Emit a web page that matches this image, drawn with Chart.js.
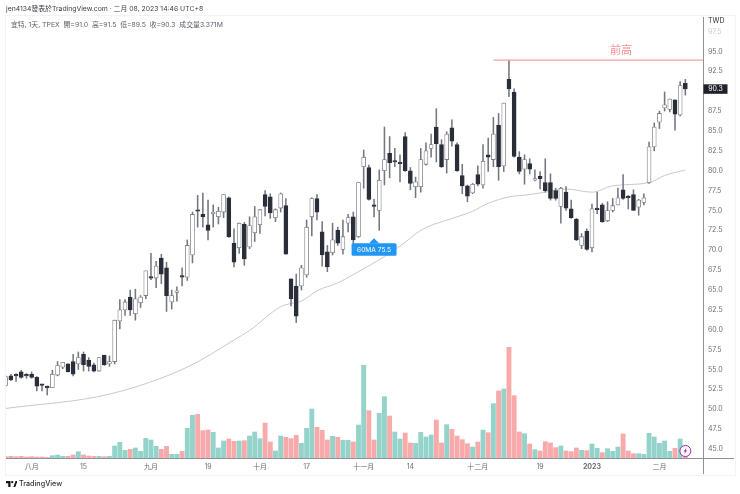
<!DOCTYPE html>
<html>
<head>
<meta charset="utf-8">
<script src="https://cdn.jsdelivr.net/npm/chart.js@4"></script>
<style>
  html, body { margin: 0; padding: 0; background: #fff; }
  body { width: 740px; height: 494px; position: relative; overflow: hidden; font-family: Inter, "Noto Sans CJK TC", sans-serif; }
  canvas { position: absolute; left: 0; top: 0; }
  .label { position: absolute; white-space: pre; line-height: 10px; }
  #frame { position: absolute; left: 5px; top: 15px; width: 729px; height: 459px; border: 1px solid #f1f3f8; }
  #header { left: 6px; top: 4px; font-size: 6.85px; color: #3a3d45; }
  #legend { left: 11px; top: 20px; font-size: 6.85px; color: #5d606b; }
  #unit { left: 708px; top: 16px; font-size: 7px; color: #2a2e39; }
  #footer { left: 19px; top: 479px; font-size: 7.2px; font-weight: 500; color: #2a2e39; }
  #logo { position: absolute; left: 6px; top: 481px; }
</style>
</head>
<body>
<div id="frame"></div>
<canvas id="chart" width="740" height="494"></canvas>
<div class="label" id="header">jen4134發表於TradingView.com · 二月 08, 2023 14:46 UTC+8</div>
<div class="label" id="legend">宜特, 1天, TPEX  開=91.0  高=91.5  低=89.5  收=90.3  成交量3.371M</div>
<div class="label" id="unit">TWD</div>
<svg id="logo" width="11" height="6" viewBox="0 0 22 12"><path d="M0 0h9v12H4.500V4.500H0zM15 12l4.500-12H22v0l-4.500 12z" fill="#131722"/><circle cx="12.500" cy="2.300" r="2.300" fill="#131722"/><path d="M15 12 19.500 0H23L18.500 12z" fill="#131722"/></svg>
<div class="label" id="footer">TradingView</div>
<script>
// Daily bars, one per trading day (index 0 is cut by the left edge).
const opens = [
  53.0,54.2,54.4,54.7,54.4,54.4,54.0,53.1,52.9,52.7,
  54.3,55.3,55.7,56.0,55.7,56.9,56.2,55.6,54.8,56.8,
  55.7,56.0,61.1,62.5,64.1,62.0,63.4,64.3,66.7,66.5,
  69.0,67.8,63.5,64.7,66.8,66.6,69.4,75.0,74.5,73.2,
  74.6,74.2,74.8,76.6,70.9,70.3,73.3,70.4,72.2,73.2,
  77.0,76.7,74.1,75.3,75.6,66.4,65.5,65.5,66.9,74.2,
  76.5,72.3,69.8,69.7,72.5,70.1,73.4,74.2,71.7,80.5,
  80.4,75.7,75.0,80.0,82.2,81.2,81.0,84.3,80.0,78.0,
  78.0,80.8,82.8,85.5,83.3,81.4,85.4,83.3,79.4,78.1,
  77.2,79.5,78.2,82.0,81.4,85.7,80.6,91.5,89.9,81.7,
  80.2,80.9,78.8,79.3,78.5,78.5,77.5,75.5,77.3,75.2,
  73.9,70.6,72.4,70.3,75.2,75.7,73.7,75.0,75.7,77.6,
  76.8,77.0,75.4,76.0,78.5,83.0,86.1,87.9,87.7,88.9,87.0,91.0
];
const highs = [
  54.2,54.4,54.5,54.9,54.5,54.7,54.1,53.1,52.9,54.9,
  56.0,55.9,55.7,56.9,57.2,57.2,56.5,55.8,56.5,56.8,
  56.7,61.2,63.8,63.8,65.0,65.1,64.3,67.4,69.6,68.6,
  69.5,68.5,65.0,65.4,67.8,71.3,74.8,76.9,77.2,76.3,
  75.7,75.4,77.0,76.7,72.7,73.4,73.5,74.2,75.5,75.1,
  77.5,77.1,75.2,77.2,76.5,66.4,67.0,68.1,73.8,76.6,
  77.0,73.6,70.6,73.4,72.9,73.8,74.5,74.8,78.5,82.6,
  80.7,76.4,80.1,85.5,84.3,82.8,82.0,84.8,80.4,79.2,
  82.8,83.5,84.6,87.8,83.9,84.9,86.4,83.5,80.8,78.2,
  78.4,80.6,83.3,84.1,86.7,87.2,88.5,93.9,90.3,82.4,
  82.0,81.5,80.1,79.9,81.5,79.6,77.8,77.9,78.0,76.3,
  74.0,72.1,72.7,75.8,77.3,75.9,76.1,76.5,77.8,79.5,
  76.9,77.6,76.4,77.1,83.6,86.0,87.5,89.9,89.0,88.9,91.2,91.5
];
const lows = [
  52.9,53.6,53.5,53.9,53.9,53.9,52.3,52.3,51.8,52.7,
  54.2,55.1,54.7,54.2,55.0,54.8,54.8,54.7,54.8,55.5,
  55.4,55.7,60.1,61.8,61.8,61.2,62.8,63.9,66.3,65.3,
  65.8,62.3,62.6,63.6,65.5,66.2,68.4,72.9,72.9,71.3,
  72.9,73.3,74.1,71.6,67.9,69.6,68.1,70.2,71.1,72.1,
  74.3,74.0,73.6,74.8,69.5,63.0,60.9,65.0,66.6,71.8,
  73.8,68.0,67.3,69.4,70.6,69.5,72.3,70.8,71.6,77.8,
  76.3,74.2,72.5,78.2,79.1,80.5,78.6,79.9,77.6,76.6,
  77.3,80.7,81.7,81.1,80.4,79.7,83.1,79.9,77.1,76.1,
  77.1,78.1,77.8,79.9,80.5,78.8,79.9,89.3,81.7,79.6,
  78.3,79.6,78.7,77.7,77.3,76.3,76.3,73.4,75.0,74.0,
  71.2,70.2,70.0,69.8,74.6,73.5,73.6,74.8,75.7,76.4,
  75.2,75.0,74.4,75.7,78.4,82.5,85.3,87.5,87.4,85.1,86.9,89.5
];
const closes = [
  54.1,53.7,54.2,54.0,54.2,54.0,52.9,53.0,52.7,54.4,
  55.5,55.9,54.7,54.4,56.5,55.6,55.4,54.8,56.5,55.6,
  56.0,61.2,62.5,63.5,62.5,63.9,64.1,67.4,66.5,68.0,
  67.0,64.3,64.3,64.9,66.6,70.6,74.5,74.9,74.2,72.5,
  74.7,74.9,77.0,71.7,68.5,73.4,68.9,73.1,74.2,75.1,
  75.5,74.7,75.1,77.1,69.5,63.9,61.7,67.8,72.9,76.5,
  74.8,69.4,67.9,71.3,70.9,71.7,74.1,71.3,78.5,81.7,
  76.4,75.5,78.8,81.4,81.0,81.1,80.9,80.0,78.4,78.6,
  81.4,82.5,83.3,83.4,80.5,84.6,83.7,80.0,78.1,76.8,
  78.3,78.3,81.2,81.7,84.6,80.5,88.5,90.3,81.8,79.9,
  81.4,80.2,79.0,79.0,77.5,76.5,76.5,77.8,75.3,74.1,
  71.3,71.7,70.1,75.2,75.1,73.6,75.0,75.6,76.6,76.5,
  76.6,75.0,76.3,76.6,83.0,85.5,87.2,88.3,89.0,87.1,90.7,90.3
];
// Volume in millions of shares.
const volumes = [
  0.4,0.5,0.4,0.5,0.3,0.4,0.3,0.3,0.2,0.7,
  0.9,0.5,0.5,0.9,1.9,0.9,0.6,0.5,0.5,0.4,
  0.5,3.6,4.7,2.3,2.6,3.0,2.0,5.9,5.4,3.5,
  2.6,3.5,1.1,1.1,2.0,8.9,12.8,13.1,8.2,8.4,
  7.7,3.0,5.1,5.7,5.0,5.1,5.2,6.6,7.8,5.8,
  10.5,4.8,2.1,6.6,6.2,5.8,6.8,4.4,8.9,14.7,
  9.2,8.3,5.4,6.5,6.2,5.3,5.3,4.8,9.9,27.8,
  14.2,5.4,13.4,18.4,12.6,7.8,5.7,7.5,4.5,4.4,
  7.7,6.3,6.9,11.4,4.5,10.0,8.6,6.6,5.5,4.3,
  3.3,4.8,8.4,7.6,16.3,20.1,20.7,33.2,18.7,7.8,
  7.3,4.2,2.5,2.1,4.9,4.5,3.1,3.6,2.1,1.9,
  3.0,2.3,2.2,4.2,2.9,1.6,2.8,2.0,3.3,7.2,
  2.1,1.3,1.3,1.1,7.4,6.3,4.4,5.1,2.0,2.9,5.7,3.371
];
// p = pink, t = teal, runs of bars in order
const volSides = ("ppppppppp ttt pp t ppp t p t ttt p ttttt pp tt p t " +
  "t ppp ttt pp t p ttt pp tt ppp ttt ppp t p tt p tt pp tt p tt pp tttt pp t pppp t p t p t p t " +
  "ppp t p t pppp t ppp t p tt p ttt ppp ttttttt p t p").split(" ").join("");

const maIndex = [0,20,35,44,47,53,55,57,60,64,68,73,77,80,87,90,93,97,101,104,108,113,117,124,127,131];
const maValues = [50.1,51.9,55.3,58.7,59.9,62.9,63.3,63.6,64.9,65.9,67.3,69.2,71.0,72.5,74.2,74.9,75.9,76.7,77.0,77.3,77.7,77.3,78.1,78.5,79.4,80.1];

const priceTicks = [45,47.5,50,52.5,55,57.5,60,62.5,65,67.5,70,72.5,75,77.5,80,82.5,85,87.5,90,92.5,95,97.5];
const timeTickIndex = [5,15,28,39,49,58,69,78,91,103,113,126];
const timeTickLabels = ["八月","15","九月","19","十月","17","十一月","14","十二月","19","2023","二月"];

const prevHighPrice = 93.9;
const prevHighIndex = [94,135];
const prevHighLabel = "前高";
const prevHighLabelAt = [118.6,95.05];
const maCalloutLabel = "60MA 75.5";
const maCalloutAt = [71,71.5];
const lastPrice = 90.3;
const lastIndex = 131;

const FONT = 'Inter, "Noto Sans CJK TC", sans-serif';
const TEAL = "#93d3ca", PINK = "#f7aaa9";

const range = (a, b) => a.map((v, i) => ({ x: i, y: [v, b[i]] }));
const isUp = (i) => closes[i] >= opens[i];

// Everything that sits on top of the series: price tag, callouts, replay icon, axis stubs.
const overlays = {
  id: "overlays",
  afterDraw(chart) {
    const { ctx, chartArea: a, scales: { x, y } } = chart;
    ctx.save();

    // axes run on past the plot area
    ctx.strokeStyle = "#8f929b";
    ctx.lineWidth = 1;
    ctx.beginPath();
    ctx.moveTo(a.right, a.bottom + 0.5);
    ctx.lineTo(734, a.bottom + 0.5);
    ctx.moveTo(a.right + 0.5, a.top);
    ctx.lineTo(a.right + 0.5, 474);
    ctx.stroke();

    // 前高
    ctx.font = `11px ${FONT}`;
    ctx.fillStyle = "#f28e8e";
    ctx.textAlign = "center";
    ctx.textBaseline = "middle";
    ctx.fillText(prevHighLabel, x.getPixelForValue(prevHighLabelAt[0]), y.getPixelForValue(prevHighLabelAt[1]));

    // last price tag
    const tagY = y.getPixelForValue(lastPrice);
    ctx.fillStyle = "#1f222c";
    ctx.fillRect(a.right + 0.5, tagY - 4.5, 24, 9.5);
    ctx.fillStyle = "#fff";
    ctx.font = `7px ${FONT}`;
    ctx.fillText(lastPrice.toFixed(1), a.right + 12.5, tagY + 0.5);

    // 60MA callout
    const cx = x.getPixelForValue(maCalloutAt[0]);
    const tip = y.getPixelForValue(maCalloutAt[1]);
    ctx.fillStyle = "#2196f3";
    ctx.beginPath();
    ctx.moveTo(cx, tip);
    ctx.lineTo(cx + 5, tip + 5);
    ctx.lineTo(cx - 5, tip + 5);
    ctx.closePath();
    ctx.fill();
    ctx.beginPath();
    ctx.roundRect(cx - 22.5, tip + 5, 45, 12.5, 1.5);
    ctx.fill();
    ctx.fillStyle = "#fff";
    ctx.font = `6.6px ${FONT}`;
    ctx.fillText(maCalloutLabel, cx, tip + 11.5);

    // replay icon over the last volume bar
    const ix = x.getPixelForValue(lastIndex);
    const iy = a.bottom - 7;
    ctx.beginPath();
    ctx.arc(ix, iy, 5.5, 0, Math.PI * 2);
    ctx.fillStyle = "#fff";
    ctx.fill();
    ctx.strokeStyle = "#9c27b0";
    ctx.lineWidth = 1;
    ctx.stroke();
    ctx.fillStyle = "#9c27b0";
    ctx.beginPath();
    ctx.moveTo(ix + 1.2, iy - 3.2);
    ctx.lineTo(ix - 1.8, iy + 0.5);
    ctx.lineTo(ix - 0.2, iy + 0.5);
    ctx.lineTo(ix - 1.2, iy + 3.2);
    ctx.lineTo(ix + 1.8, iy - 0.5);
    ctx.lineTo(ix + 0.2, iy - 0.5);
    ctx.closePath();
    ctx.fill();
    ctx.restore();
  },
};

new Chart(document.getElementById("chart"), {
  type: "bar",
  data: {
    datasets: [
      {
        // candle bodies
        order: 1,
        grouped: false,
        data: range(opens, closes),
        backgroundColor: opens.map((_, i) => (isUp(i) ? "#ffffff" : "#2a2e39")),
        borderColor: opens.map((_, i) => (isUp(i) ? "#7a7d85" : "#2a2e39")),
        borderWidth: 0.8,
        borderSkipped: false,
        barThickness: 4,
        minBarLength: 1.5,
      },
      {
        // wicks
        order: 2,
        grouped: false,
        data: range(lows, highs),
        backgroundColor: "#74777f",
        barThickness: 0.9,
      },
      {
        // 前高 line
        type: "line",
        order: 0,
        data: prevHighIndex.map((v) => ({ x: v, y: prevHighPrice })),
        borderColor: "#f5a3a3",
        borderWidth: 1.2,
        pointRadius: 0,
      },
      {
        type: "line",
        order: 3,
        data: maIndex.map((v, i) => ({ x: v, y: maValues[i] })),
        borderColor: "#c9c9c9",
        borderWidth: 1,
        pointRadius: 0,
        cubicInterpolationMode: "monotone",
      },
      {
        order: 4,
        grouped: false,
        yAxisID: "yv",
        data: volumes.map((v, i) => ({ x: i, y: v })),
        backgroundColor: volumes.map((_, i) => (volSides[i] === "p" ? PINK : TEAL)),
        barThickness: 4.2,
      },
    ],
  },
  options: {
    responsive: false,
    animation: false,
    devicePixelRatio: 1,
    layout: { padding: { left: 6, top: 17, right: 0, bottom: 20 } },
    plugins: { legend: { display: false }, tooltip: { enabled: false } },
    scales: {
      x: {
        type: "linear",
        min: 0.06,
        max: 134.4,
        offset: false,
        grid: { display: false, drawTicks: false },
        border: { color: "#8f929b" },
        afterFit: (s) => { s.height = 16; },
        afterBuildTicks: (s) => { s.ticks = timeTickIndex.map((v) => ({ value: v })); },
        ticks: {
          autoSkip: false,
          maxRotation: 0,
          padding: 5,
          color: "#6b6e78",
          font: (c) => ({ family: FONT, size: 7, weight: timeTickLabels[c.index] === "2023" ? "bold" : "normal" }),
          callback: (v, i) => timeTickLabels[i],
        },
      },
      y: {
        position: "right",
        min: 43.87,
        max: 99.33,
        grid: { display: false, drawTicks: false },
        border: { color: "#8f929b" },
        afterFit: (s) => { s.width = 37; },
        afterBuildTicks: (s) => { s.ticks = priceTicks.map((v) => ({ value: v })); },
        ticks: {
          padding: 5,
          color: (c) => (c.tick && c.tick.value > 97 ? "#c9cbd0" : "#6b6e78"),
          font: { family: FONT, size: 7 },
          callback: (v) => v.toFixed(1),
        },
      },
      yv: { display: false, min: 0, max: 132.3 },
    },
  },
  plugins: [overlays],
});
</script>
</body>
</html>
